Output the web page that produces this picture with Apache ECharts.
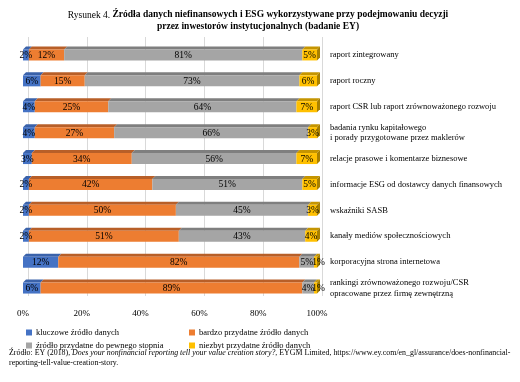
<!DOCTYPE html>
<html><head><meta charset="utf-8">
<script src="https://cdn.jsdelivr.net/npm/echarts@6/dist/echarts.min.js"></script>
<style>html,body{margin:0;padding:0;background:#fff}#c{width:520px;height:382px}</style>
</head><body><div id="c"></div>
<script>
const categories = [
  'raport zintegrowany',
  'raport roczny',
  'raport CSR lub raport zrównoważonego rozwoju',
  'badania rynku kapitałowego\ni porady przygotowane przez maklerów',
  'relacje prasowe i komentarze biznesowe',
  'informacje ESG od dostawcy danych finansowych',
  'wskaźniki SASB',
  'kanały mediów społecznościowych',
  'korporacyjna strona internetowa',
  'rankingi zrównoważonego rozwoju/CSR\nopracowane przez firmę zewnętrzną'
];
const seriesNames = ['kluczowe źródło danych','bardzo przydatne źródło danych','źródło przydatne do pewnego stopnia','niezbyt przydatne źródło danych'];
const kluczowe = [2, 6, 4, 4, 3, 2, 2, 2, 12, 6];
const bardzo   = [12, 15, 25, 27, 34, 42, 50, 51, 82, 89];
const stopnia  = [81, 73, 64, 66, 56, 51, 45, 43, 5, 4];
const niezbyt  = [5, 6, 7, 3, 7, 5, 3, 4, 1, 1];
const xTickLabels = ['0%','20%','40%','60%','80%','100%'];

const values = [kluczowe, bardzo, stopnia, niezbyt];
const fronts = ['#4472C4','#ED7D31','#A5A5A5','#FFC000'];
const tops   = ['#3A62AA','#B85F28','#7F7F7F','#C59500'];
const sides  = ['#2F5597','#A0521F','#6E6E6E','#A88000'];

const FONT = '"Liberation Serif", "Times New Roman", serif';

function makeRender(idx, isLast) {
  return function (params, api) {
    const s = api.value(0), e = api.value(1), j = api.value(2), v = api.value(3);
    const p0 = api.coord([s, j]);
    const p1 = api.coord([e, j]);
    const h = 11, d = 3, dy = 3;
    const y0 = p0[1] - h / 2, y1 = p0[1] + h / 2;
    const children = [
      {type: 'polygon', shape: {points: [[p0[0], y0], [p1[0], y0], [p1[0] + d, y0 - dy], [p0[0] + d, y0 - dy]]}, style: {fill: tops[idx]}},
      {type: 'rect', shape: {x: p0[0], y: y0, width: p1[0] - p0[0], height: h}, style: {fill: fronts[idx]}}
    ];
    if (isLast) {
      children.push({type: 'polygon', shape: {points: [[p1[0], y0], [p1[0] + d, y0 - dy], [p1[0] + d, y1 - dy], [p1[0], y1]]}, style: {fill: sides[idx]}});
    }
    let cx = (p0[0] + p1[0]) / 2;
    if (v <= 1) cx += 3;
    children.push({type: 'text', z2: 100, style: {text: v + '%', x: cx, y: p0[1] + 0.5, align: 'center', verticalAlign: 'middle', fontSize: 9.5, fontFamily: FONT, fill: '#000'}});
    return {type: 'group', children};
  };
}

const series = values.map((arr, i) => ({
  type: 'custom',
  name: seriesNames[i],
  xAxisIndex: 0, yAxisIndex: 0,
  itemStyle: {color: fronts[i]},
  encode: {x: [0, 1], y: 2},
  renderItem: makeRender(i, i === values.length - 1),
  data: categories.map((c, j) => {
    let start = 0;
    for (let k = 0; k < i; k++) start += values[k][j];
    return [start, start + arr[j], j, arr[j]];
  })
}));

const legendPos = [[26, 328], [189, 328], [26, 341], [189, 341]];
const legends = seriesNames.map((n, i) => ({
  data: [n], left: legendPos[i][0], top: legendPos[i][1], orient: 'horizontal',
  icon: 'rect', itemWidth: 6, itemHeight: 6, selectedMode: false, padding: 0,
  textStyle: {fontSize: 8.5, fontFamily: FONT, color: '#000', padding: [0, 0, 0, -1]}
}));

const chart = echarts.init(document.getElementById('c'), null, {renderer: 'canvas'});
chart.setOption({
  animation: false,
  backgroundColor: '#fff',
  legend: legends,
  grid: [
    {left: 23, right: 203, top: 42, bottom: 81, containLabel: false},
    {left: 28, right: 198, top: 37, bottom: 86, containLabel: false}
  ],
  xAxis: [
    {gridIndex: 0, type: 'value', min: 0, max: 100, interval: 20,
     axisLine: {show: false}, axisTick: {show: false}, splitLine: {show: false},
     axisLabel: {margin: 8, fontSize: 9, fontFamily: FONT, color: '#000',
       formatter: v => xTickLabels[Math.round(v / 20)]}},
    {gridIndex: 1, type: 'value', min: 0, max: 100, interval: 20,
     axisLine: {show: false}, axisTick: {show: false}, axisLabel: {show: false},
     splitLine: {show: true, lineStyle: {color: '#D9D9D9', width: 1}}}
  ],
  yAxis: [
    {gridIndex: 0, type: 'category', data: categories, inverse: true, position: 'right',
     axisLine: {show: false}, axisTick: {show: false}, splitLine: {show: false},
     axisLabel: {align: 'left', margin: 13, fontSize: 8.5, lineHeight: 10.5, fontFamily: FONT, color: '#000'}},
    {gridIndex: 1, type: 'category', data: categories, inverse: true, show: false}
  ],
  graphic: [
    {type: 'text', style: {
      x: 258, y: 15, align: 'center', verticalAlign: 'middle',
      text: '{n|Rysunek 4. }{b|Źródła danych niefinansowych i ESG wykorzystywane przy podejmowaniu decyzji}',
      rich: {
        n: {fontSize: 9.5, fontFamily: FONT, fill: '#000'},
        b: {fontSize: 9.5, fontFamily: FONT, fontWeight: 'bold', fill: '#000'}
      }
    }},
    {type: 'text', style: {
      x: 258, y: 27, align: 'center', verticalAlign: 'middle',
      text: 'przez inwestorów instytucjonalnych (badanie EY)',
      fontSize: 9.5, fontFamily: FONT, fontWeight: 'bold', fill: '#000'
    }},
    {type: 'text', left: 9, top: 349, style: {
      text: '{n|Źródło: EY (2018), }{i|Does your nonfinancial reporting tell your value creation story?}{n|, EYGM Limited, https://www.ey.com/en_gl/assurance/does-nonfinancial-}\n{n|reporting-tell-value-creation-story.}',
      rich: {
        n: {fontSize: 7.9, fontFamily: FONT, fill: '#000', lineHeight: 10},
        i: {fontSize: 7.9, fontFamily: FONT, fontStyle: 'italic', fill: '#000', lineHeight: 10}
      }
    }}
  ],
  series
});
</script></body></html>
